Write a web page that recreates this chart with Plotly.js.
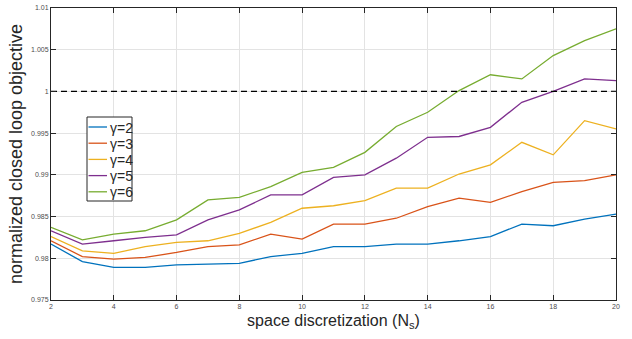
<!DOCTYPE html>
<html>
<head>
<meta charset="utf-8">
<script src="https://cdn.plot.ly/plotly-3.0.1.min.js"></script>
<style>html,body{margin:0;padding:0;background:#fff;}#chart{width:632px;height:339px;}</style>
</head>
<body>
<div id="chart"></div>
<script>
const Ns = [2,3,4,5,6,7,8,9,10,11,12,13,14,15,16,17,18,19,20];
const gamma2 = [0.9817,0.9796,0.9789,0.9789,0.9792,0.9793,0.9794,0.9802,0.9806,0.9814,0.9814,0.9817,0.9817,0.9821,0.9826,0.9841,0.9839,0.9847,0.9853];
const gamma3 = [0.9821,0.9802,0.9799,0.9801,0.9807,0.9814,0.9816,0.9829,0.9823,0.9841,0.9841,0.9848,0.9862,0.9872,0.9867,0.9880,0.9891,0.9893,0.9900];
const gamma4 = [0.9826,0.9809,0.9806,0.9814,0.9819,0.9821,0.9830,0.9843,0.9860,0.9863,0.9869,0.9884,0.9884,0.9901,0.9912,0.9939,0.9924,0.9965,0.9955];
const gamma5 = [0.9833,0.9817,0.9821,0.9825,0.9828,0.9846,0.9858,0.9876,0.9876,0.9897,0.9900,0.9920,0.9945,0.9946,0.9957,0.9987,1.0000,1.0015,1.0013];
const gamma6 = [0.9837,0.9822,0.9829,0.9833,0.9846,0.9870,0.9873,0.9886,0.9903,0.9909,0.9927,0.9958,0.9975,1.0001,1.0020,1.0015,1.0043,1.0061,1.0075];
const seriesNames = ['γ=2','γ=3','γ=4','γ=5','γ=6'];
const seriesValues = [gamma2, gamma3, gamma4, gamma5, gamma6];
const refX = [2, 20];
const refY = [1, 1];
const yTicks = [0.975,0.98,0.985,0.99,0.995,1,1.005,1.01];
const yTickText = ['0.975','0.98','0.985','0.99','0.995','1','1.005','1.01'];
const xTicks = [2,4,6,8,10,12,14,16,18,20];

const W = 632, H = 339;
const M = {l:51, r:16, t:8, b:39};
const PW = W - M.l - M.r, PH = H - M.t - M.b;
const px = v => (v - M.l) / PW;       // pixel -> paper x
const py = v => 1 - (v - M.t) / PH;   // pixel -> paper y

const colors = ['#0072BD','#D95319','#EDB120','#7E2F8E','#77AC30'];
const FONT = 'Liberation Sans, Arial, Helvetica, sans-serif';
const traces = seriesValues.map((v,i)=>({
  x: Ns, y: v, type:'scatter', mode:'lines', name: seriesNames[i],
  line:{color: colors[i], width:1.3}, showlegend:false
}));
traces.push({x: refX, y: refY, type:'scatter', mode:'lines', showlegend:false,
  line:{color:'#000', width:1.3, dash:'6px,4px'}});

// custom compact legend (MATLAB style)
const legBox = {x0:87, x1:132, y0:117, y1:201};
const shapes = [{type:'rect', xref:'paper', yref:'paper',
  x0:px(legBox.x0), x1:px(legBox.x1), y0:py(legBox.y1), y1:py(legBox.y0),
  fillcolor:'#fff', line:{color:'#262626', width:1}, layer:'above'}];
const annotations = [];
seriesNames.forEach((n,i)=>{
  const cy = 127 + i*16.2;
  shapes.push({type:'line', xref:'paper', yref:'paper', x0:px(88.5), x1:px(107), y0:py(cy), y1:py(cy),
    line:{color:colors[i], width:1.3}, layer:'above'});
  annotations.push({xref:'paper', yref:'paper', x:px(107.5), y:py(cy+0.5), xanchor:'left', yanchor:'middle',
    text:n, showarrow:false, font:{family:FONT, size:14, color:'#262626'}});
});

const axisCommon = {
  showline:true, linecolor:'#262626', linewidth:1, mirror:'ticks',
  ticks:'inside', ticklen:5, tickcolor:'#262626', tickwidth:1,
  showgrid:true, gridcolor:'#e3e3e3', gridwidth:1, zeroline:false,
  tickfont:{family:FONT, size:7, color:'#4d4d4d'}
};
const layout = {
  width:W, height:H,
  margin:M,
  paper_bgcolor:'#fff', plot_bgcolor:'#fff',
  showlegend:false,
  shapes: shapes, annotations: annotations,
  xaxis: Object.assign({}, axisCommon, {
    range:[2,20], tickvals:xTicks, ticktext:xTicks.map(String),
    title:{text:'space discretization (N<sub>s</sub>)', standoff:5,
      font:{family:FONT, size:16, color:'#262626'}}
  }),
  yaxis: Object.assign({}, axisCommon, {
    range:[0.975,1.01], tickvals:yTicks, ticktext:yTickText,
    title:{text:'normalized closed loop objective', standoff:3,
      font:{family:FONT, size:18, color:'#262626'}}
  })
};
Plotly.newPlot('chart', traces, layout, {displayModeBar:false, staticPlot:true});
</script>
</body>
</html>
